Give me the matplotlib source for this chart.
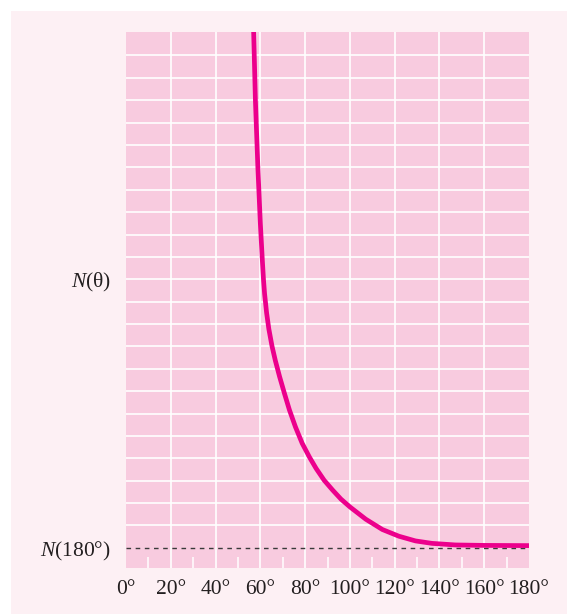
import numpy as np
import matplotlib
matplotlib.use('Agg')
import matplotlib.pyplot as plt
from matplotlib.patches import Rectangle

plt.rcParams['font.family'] = ['Liberation Serif', 'DejaVu Serif']
plt.rcParams['mathtext.fontset'] = 'custom'
plt.rcParams['mathtext.it'] = 'Liberation Serif:italic'
plt.rcParams['mathtext.rm'] = 'Liberation Serif'

# curve (angle in degrees, count in units of N(180))
theta = [57.0, 57.8, 58.9, 60.0, 60.9, 61.4, 61.9, 62.8, 63.8, 65.2, 66.7,
         68.6, 70.8, 73.0, 75.7, 78.7, 81.9, 84.9, 88.5, 92.3, 96.0, 100.0,
         107.1, 114.5, 121.9, 129.3, 136.7, 147.1, 160.0, 180.0]
counts = [24.1, 21.0, 18.0, 15.5, 13.84, 13.0, 12.35, 11.5, 10.78, 10.02, 9.37,
          8.65, 7.89, 7.16, 6.40, 5.67, 5.06, 4.55, 4.02, 3.58, 3.18, 2.83,
          2.28, 1.82, 1.52, 1.31, 1.20, 1.13, 1.11, 1.10]

n180 = 1.0
xticks = [0, 20, 40, 60, 80, 100, 120, 140, 160, 180]
xlabels = ['0°', '20°', '40°', '60°', '80°', '100°', '120°', '140°', '160°', '180°']
xminor = [10, 30, 50, 70, 90, 110, 130, 150, 170]
ygrid = list(range(2, 24))
yticks = [1, 13]
ylabels = ['$N$(180°)', '$N$(θ)']

txt = '#231f20'
fig = plt.figure(figsize=(5.67, 6.14), dpi=100)
fig.patches.append(Rectangle((11 / 567, 0), 1, 1 - 11 / 614, transform=fig.transFigure,
                             facecolor='#fdf0f4', edgecolor='none', zorder=-10))

ax = fig.add_axes([126 / 567, 46 / 614, 403 / 567, 536 / 614])
ax.set_facecolor('#f8cbdf')
for s in ax.spines.values():
    s.set_visible(False)

for g in ygrid:
    ax.axhline(g, color='white', lw=1.2, zorder=1)
for g in xticks[1:-1]:
    ax.axvline(g, color='white', lw=1.2, zorder=1)

ax.axhline(n180, color='#3a3a3a', lw=1.0, linestyle=(0, (3.3, 3.3)), zorder=2)
ax.plot(theta, counts, color='#ec008c', lw=3.4, solid_capstyle='butt',
        solid_joinstyle='round', zorder=3)

ax.set_xlim(0, 180)
ax.set_ylim(0.1, 24.05)
ax.set_xticks(xticks)
ax.set_xticklabels(xlabels)
ax.set_xticks(xminor, minor=True)
ax.set_yticks(yticks)
ax.set_yticklabels(ylabels)
ax.tick_params(axis='both', which='major', length=0, labelsize=15.5, labelcolor=txt)
ax.tick_params(axis='x', which='major', pad=9)
ax.tick_params(axis='y', which='major', pad=11)
ax.tick_params(axis='x', which='minor', direction='in', length=8, width=1.1,
               color='white', top=False)
ax.tick_params(axis='y', which='minor', left=False)

fig.savefig('out.png', dpi=100)
